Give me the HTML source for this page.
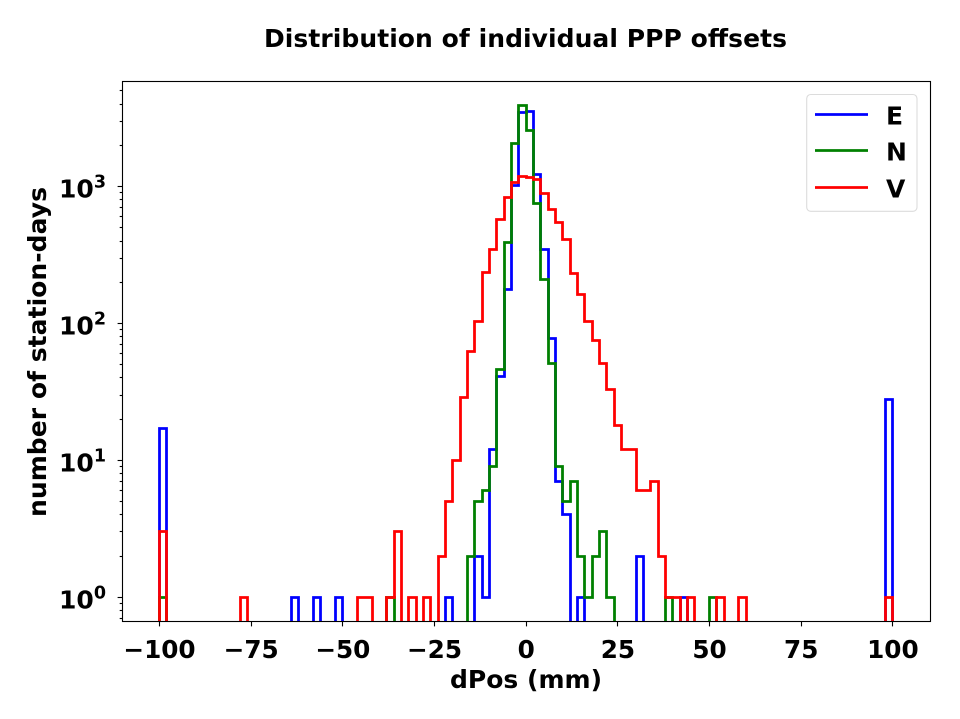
<!DOCTYPE html>
<html>
<head>
<meta charset="utf-8">
<title>Distribution of individual PPP offsets</title>
<style>
html,body{margin:0;padding:0;background:#fff;width:960px;height:719px;overflow:hidden}
svg{display:block}
text{font-family:"DejaVu Sans","Liberation Sans",sans-serif;font-weight:bold;fill:#000}
</style>
</head>
<body>
<svg id="chart" width="960" height="719" viewBox="0 0 960 719" xmlns="http://www.w3.org/2000/svg">
  <rect x="0" y="0" width="960" height="719" fill="#fff"/>
  <defs>
    <clipPath id="plot-clip"><rect x="122.5" y="81.5" width="808" height="540"/></clipPath>
  </defs>
  <text x="525.5" y="47" text-anchor="middle" font-size="25" textLength="523">Distribution of individual PPP offsets</text>
  <g id="series-layer" clip-path="url(#plot-clip)"></g>
  <g id="tick-layer"></g>
  <rect x="122.5" y="81.5" width="808" height="540" fill="none" stroke="#000" stroke-width="1.11"/>
  <text x="526" y="688" text-anchor="middle" font-size="25" textLength="152">dPos (mm)</text>
  <text transform="translate(46,352) rotate(-90)" text-anchor="middle" font-size="25" textLength="330">number of station-days</text>
  <g>
    <rect x="806.7" y="94.5" width="110.3" height="116.8" rx="4" ry="4" fill="#fff" fill-opacity="0.8" stroke="#dcdcdc" stroke-width="1.11"/>
    <line x1="815" x2="868" y1="114.5" y2="114.5" stroke="#0000ff" stroke-width="2.78"/>
    <text x="886" y="124.5" font-size="25">E</text>
    <line x1="815" x2="868" y1="150.5" y2="150.5" stroke="#008000" stroke-width="2.78"/>
    <text x="886" y="160.5" font-size="25">N</text>
    <line x1="815" x2="868" y1="187.5" y2="187.5" stroke="#ff0000" stroke-width="2.78"/>
    <text x="886" y="197.5" font-size="25">V</text>
  </g>
</svg>
<script>
const binStart = -100;
const binWidth = 2;
const seriesE = [
  17,0,0,0,0,0,0,0,0,0,
  0,0,0,0,0,0,0,0,1,0,
  0,1,0,0,1,0,0,0,0,0,
  0,0,0,0,0,0,0,0,0,1,
  0,0,0,2,1,12,41,176,1014,3490,
  3520,1230,348,78,7,4,0,1,0,0,
  0,0,0,0,0,2,0,0,0,0,
  0,1,0,0,0,0,0,0,0,0,
  0,0,0,0,0,0,0,0,0,0,
  0,0,0,0,0,0,0,0,0,28
];
const seriesN = [
  1,0,0,0,0,0,0,0,0,0,
  0,0,0,0,0,0,0,0,0,0,
  0,0,0,0,0,0,0,0,0,0,
  0,1,0,0,0,0,0,0,0,0,
  0,0,2,5,6,9,46,392,2070,3880,
  2590,755,210,51,9,5,7,2,1,2,
  3,1,0,0,0,0,0,0,0,1,
  0,0,0,0,0,1,0,0,0,0,
  0,0,0,0,0,0,0,0,0,0,
  0,0,0,0,0,0,0,0,0,0
];
const seriesV = [
  3,0,0,0,0,0,0,0,0,0,
  0,1,0,0,0,0,0,0,0,0,
  0,0,0,0,0,0,0,1,1,0,
  0,1,3,0,1,0,1,0,2,5,
  10,29,62,103,237,348,577,836,1075,1180,
  1169,1135,893,686,549,414,233,164,104,75,
  51,33,18,12,12,6,6,7,2,1,
  1,0,1,0,0,0,1,0,0,1,
  0,0,0,0,0,0,0,0,0,0,
  0,0,0,0,0,0,0,0,0,1
];
const xTicks = [-100,-75,-50,-25,0,25,50,75,100];
const yTickExponents = [0,1,2,3];
const minorDecades = [-1,0,1,2,3];
const minorMultiples = [2,3,4,5,6,7,8,9];

const NS = 'http://www.w3.org/2000/svg';
const plotLeft = 122.5, plotRight = 930.5, plotTop = 81.5, plotBottom = 621.5;

function xScale(v){ return 159.5 + (v + 100) * 3.667; }
function yScale(c){ return 597.3 - Math.log10(c) * 136.9; }
function snap(p){ return Math.floor(p) + 0.5; }

function drawSeries(values, color, name){
  const below = plotBottom + 20;
  let d = 'M' + snap(xScale(binStart)) + ' ' + below;
  values.forEach(function(c, i){
    const y = c > 0 ? snap(yScale(c)) : below;
    d += 'V' + y + 'H' + snap(xScale(binStart + (i + 1) * binWidth));
  });
  d += 'V' + below;
  const p = document.createElementNS(NS, 'path');
  p.setAttribute('d', d);
  p.setAttribute('fill', 'none');
  p.setAttribute('stroke', color);
  p.setAttribute('stroke-width', '2.78');
  p.setAttribute('stroke-linejoin', 'miter');
  
  
  document.getElementById('series-layer').appendChild(p);
}
drawSeries(seriesE, '#0000ff', 'series-e');
drawSeries(seriesN, '#008000', 'series-n');
drawSeries(seriesV, '#ff0000', 'series-v');

const tickLayer = document.getElementById('tick-layer');
function tickLine(x1, y1, x2, y2, name){
  const l = document.createElementNS(NS, 'line');
  l.setAttribute('x1', x1);
  l.setAttribute('y1', y1);
  l.setAttribute('x2', x2);
  l.setAttribute('y2', y2);
  l.setAttribute('stroke', '#000');
  l.setAttribute('stroke-width', '1.11');
  
  
  tickLayer.appendChild(l);
}

xTicks.forEach(function(v){
  const x = xScale(v);
  tickLine(snap(x), plotBottom, snap(x), plotBottom + 4.9, 'x-tick');
  const t = document.createElementNS(NS, 'text');
  t.setAttribute('x', x);
  t.setAttribute('y', 658);
  t.setAttribute('text-anchor', 'middle');
  t.setAttribute('font-size', '24.7');
  
  
  t.textContent = (v < 0 ? '\u2212' + Math.abs(v) : String(v));
  tickLayer.appendChild(t);
});

yTickExponents.forEach(function(e){
  const y = yScale(Math.pow(10, e));
  tickLine(plotLeft, snap(y), plotLeft - 4.9, snap(y), 'y-tick');
  const t = document.createElementNS(NS, 'text');
  t.setAttribute('x', 106);
  t.setAttribute('y', y + 11);
  t.setAttribute('text-anchor', 'end');
  t.setAttribute('font-size', '25');
  
  
  const base = document.createElementNS(NS, 'tspan');
  base.textContent = '10';
  const sup = document.createElementNS(NS, 'tspan');
  sup.setAttribute('font-size', '17.5');
  sup.setAttribute('dy', '-10');
  sup.textContent = String(e);
  t.appendChild(base);
  t.appendChild(sup);
  tickLayer.appendChild(t);
});

minorDecades.forEach(function(e){
  minorMultiples.forEach(function(m){
    const y = yScale(m * Math.pow(10, e));
    if (y < plotTop || y > plotBottom) return;
    tickLine(plotLeft, snap(y), plotLeft - 2.8, snap(y), 'y-minor-tick');
  });
});
</script>
</body>
</html>
